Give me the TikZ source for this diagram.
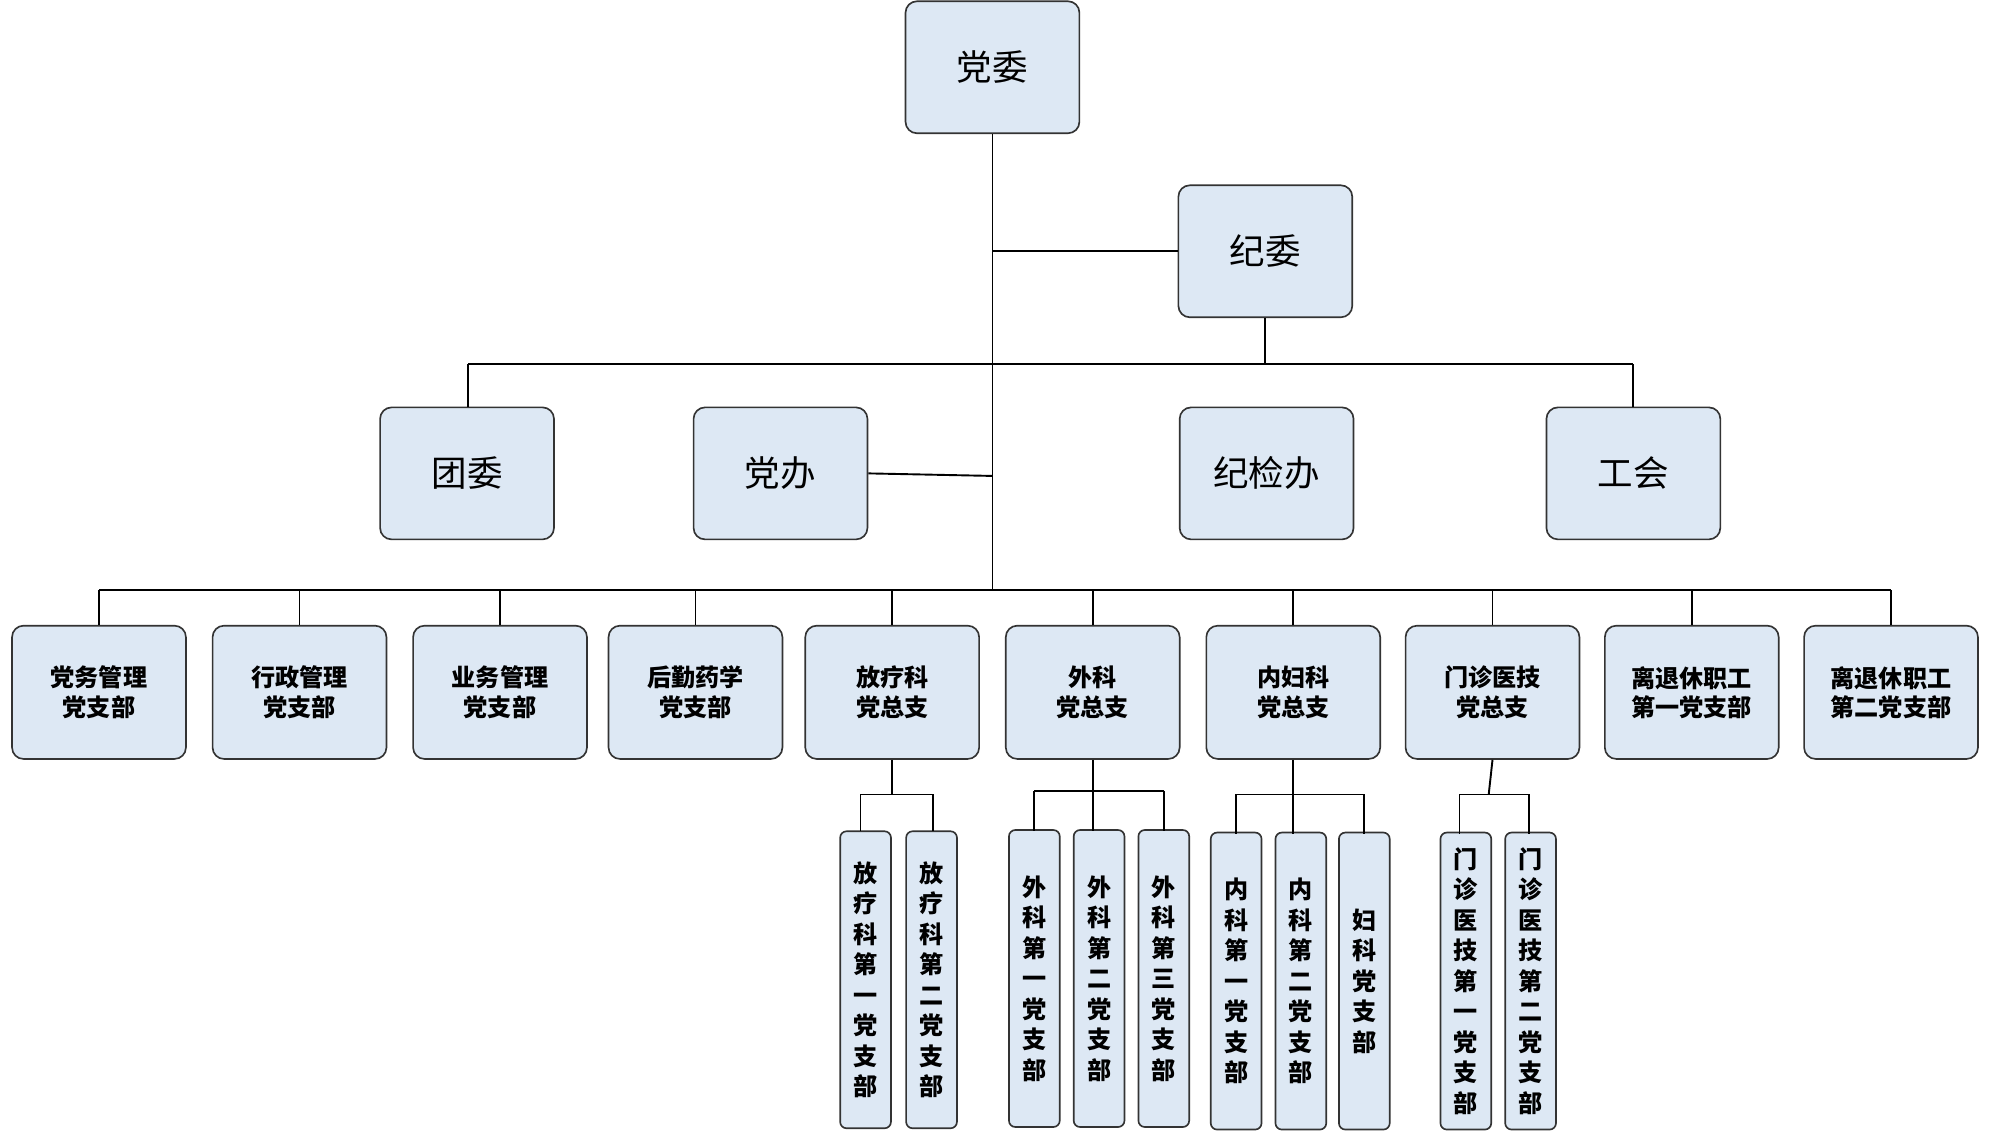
\documentclass[tikz,border=0pt]{standalone}
\usepackage{fontspec}
\newfontfamily\cjk{Noto Sans CJK SC}
\definecolor{boxfill}{HTML}{DDE8F4}
\definecolor{boxline}{HTML}{333333}
\begin{document}
\begin{tikzpicture}[x=1pt,y=-1pt,
  base/.style={draw=boxline,line width=1.3pt,fill=boxfill,rounded corners=9pt,inner sep=0pt,align=center},
  big/.style={base,minimum width=137pt,minimum height=104pt,font=\cjk\fontsize{28}{32}\selectfont},
  mid/.style={base,minimum width=137pt,minimum height=105pt,font=\cjk\bfseries\fontsize{19}{23}\selectfont},
  tall/.style={base,minimum width=40pt,minimum height=234pt,rounded corners=5pt,font=\cjk\bfseries\fontsize{19}{24}\selectfont},
  ln/.style={line width=1.5pt}]
\useasboundingbox (0,0) rectangle (1568,894);
\node[big] (dw) at (782,53) {党委};
\node[big] (jw) at (997,198) {纪委};
\node[big] (tw) at (368,373) {团委};
\node[big] (db) at (615,373) {党办};
\node[big] (jjb) at (998,373) {纪检办};
\node[big] (gh) at (1287,373) {工会};
\coordinate (trunk) at (782,465);
\draw[ln] (dw.south) -- (trunk);
\draw[ln] (782,198) -- (jw.west);
\draw[ln] (jw.south) -- (997,287);
\draw[ln] (369,287) -- (1287,287);
\draw[ln] (369,287) -- (369,321);
\draw[ln] (1287,287) -- (1287,321);
\draw[ln] (db.east) -- (782,375);
\draw[ln] (78,465) -- (1490,465);
\foreach \n/\x/\t in {a/78/党务管理\\党支部, b/236/行政管理\\党支部, c/394/业务管理\\党支部, d/548/后勤药学\\党支部, e/703/放疗科\\党总支, f/861/外科\\党总支, g/1019/内妇科\\党总支, h/1176/门诊医技\\党总支, i/1333/离退休职工\\第一党支部, j/1490/离退休职工\\第二党支部}{
  \node[mid] (\n) at (\x,545.5) {\t};
  \draw[ln] (\x,465) -- (\n.north);
}
% sub branches
\newcommand{\vt}[1]{#1}
\node[tall] (e1) at (682,772) {放\\疗\\科\\第\\一\\党\\支\\部};
\node[tall] (e2) at (734,772) {放\\疗\\科\\第\\二\\党\\支\\部};
\draw[ln] (e.south) -- (703,626); \draw[ln] (678,626) -- (735,626);
\draw[ln] (678,626) -- (678,655); \draw[ln] (735,626) -- (735,655);
\node[tall] (f1) at (815,771) {外\\科\\第\\一\\党\\支\\部};
\node[tall] (f2) at (866,771) {外\\科\\第\\二\\党\\支\\部};
\node[tall] (f3) at (917,771) {外\\科\\第\\三\\党\\支\\部};
\draw[ln] (f.south) -- (861,623); \draw[ln] (815,623) -- (917,623);
\foreach \n/\x in {f1/815,f2/861,f3/917}{\draw[ln] (\x,623) -- (\x,655);}
\node[tall] (g1) at (974,773) {内\\科\\第\\一\\党\\支\\部};
\node[tall] (g2) at (1025,773) {内\\科\\第\\二\\党\\支\\部};
\node[tall] (g3) at (1075,773) {妇\\科\\党\\支\\部};
\draw[ln] (g.south) -- (1019,626); \draw[ln] (974,626) -- (1075,626);
\foreach \x in {974,1019,1075}{\draw[ln] (\x,626) -- (\x,657);}
\node[tall] (h1) at (1155,773) {门\\诊\\医\\技\\第\\一\\党\\支\\部};
\node[tall] (h2) at (1206,773) {门\\诊\\医\\技\\第\\二\\党\\支\\部};
\draw[ln] (h.south) -- (1173,626); \draw[ln] (1150,626) -- (1205,626);
\draw[ln] (1150,626) -- (1150,657); \draw[ln] (1205,626) -- (1205,657);
\end{tikzpicture}
\end{document}
